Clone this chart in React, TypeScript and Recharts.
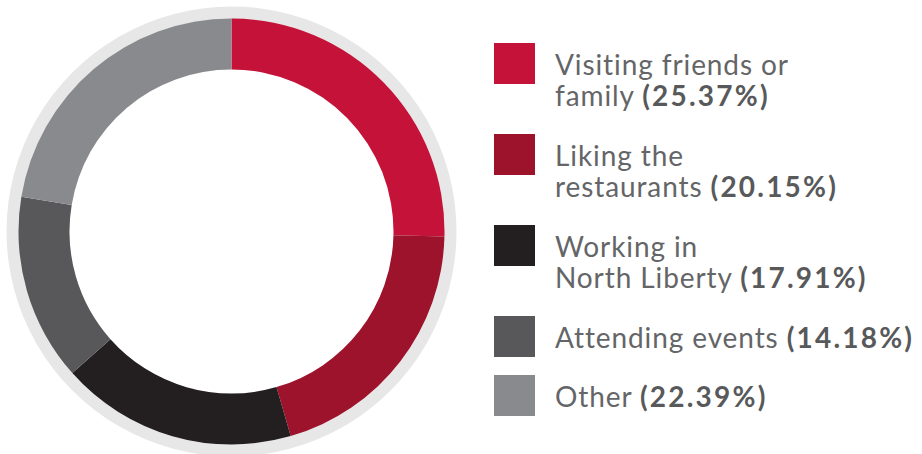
import React from "react";
import { PieChart, Pie, Cell, Legend } from "recharts";

const categories = [
  "Visiting friends or family",
  "Liking the restaurants",
  "Working in North Liberty",
  "Attending events",
  "Other",
];
const labelLines = [
  ["Visiting friends or", "family"],
  ["Liking the", "restaurants"],
  ["Working in", "North Liberty"],
  ["Attending events"],
  ["Other"],
];
const shares = [25.37, 20.15, 17.91, 14.18, 22.39];
const colors = ["#c41239", "#9e132c", "#231f20", "#58585a", "#898a8d"];
const track = [{ name: "track", value: 100 }];

const data = categories.map((c, i) => ({ name: c, value: shares[i] }));

const FONT = "Lato, 'Noto Sans', sans-serif";

const renderLegend = () => {
  let y = 43;
  const items: React.ReactNode[] = [];
  labelLines.forEach((lines, i) => {
    const top = y;
    items.push(
      <g key={i}>
        <rect x={4} y={top} width={41} height={41} fill={colors[i]} />
        {lines.map((ln, j) => (
          <text
            key={j}
            x={65}
            y={top + 32 + j * 31}
            fontFamily={FONT}
            fontSize={28}
            fill="#646567"
            letterSpacing={0.9}
          >
            {j === lines.length - 1 ? ln + " " : ln}
            {j === lines.length - 1 ? (
              <tspan fontWeight={700} fill="#58595b" letterSpacing={2.2}>
                {"(" + shares[i].toFixed(2) + "%)"}
              </tspan>
            ) : null}
          </text>
        ))}
      </g>
    );
    y += lines.length > 1 ? 91 : 59;
  });
  return (
    <svg width={432} height={454} style={{ display: "block" }}>
      {items}
    </svg>
  );
};

export default function App() {
  return (
    <div style={{ position: "absolute", left: 0, top: 0, background: "#fff" }}>
      <PieChart width={922} height={454} margin={{ top: 0, right: 0, bottom: 0, left: 0 }}>
        <Pie
          data={track}
          dataKey="value"
          cx={231.5}
          cy={231.5}
          innerRadius={210}
          outerRadius={225}
          fill="#e7e7e7"
          stroke="none"
          legendType="none"
          isAnimationActive={false}
        />
        <Pie
          data={data}
          dataKey="value"
          nameKey="name"
          cx={231.5}
          cy={231.5}
          innerRadius={162}
          outerRadius={213}
          startAngle={90}
          endAngle={-270}
          stroke="none"
          isAnimationActive={false}
        >
          {data.map((d, i) => (
            <Cell key={d.name} fill={colors[i]} />
          ))}
        </Pie>
        <Legend
          layout="vertical"
          align="right"
          verticalAlign="top"
          content={renderLegend}
          wrapperStyle={{ position: "absolute", left: 490, top: 0, width: 432, height: 454 }}
        />
      </PieChart>
    </div>
  );
}
